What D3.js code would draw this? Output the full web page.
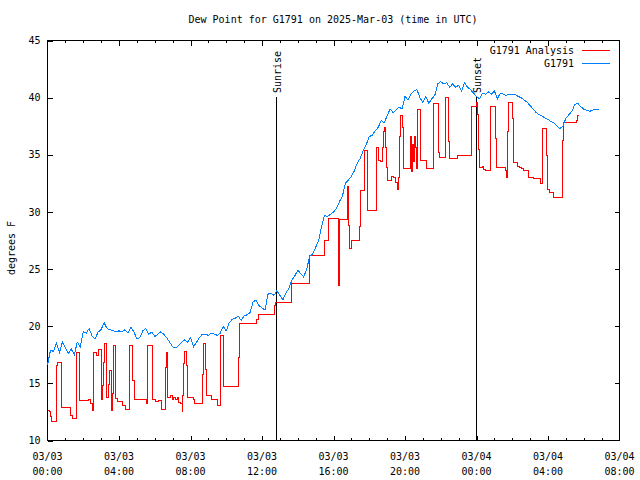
<!DOCTYPE html>
<html>
<head>
<meta charset="utf-8">
<script src="https://cdn.jsdelivr.net/npm/d3@7"></script>
<style>
  html, body { margin: 0; padding: 0; background: #fff; }
  svg { display: block; }
  text { font-family: "DejaVu Sans Mono", "Liberation Mono", monospace; font-size: 10px; fill: #000; }
</style>
</head>
<body>
<div id="chart"></div>
<script>
// ---------------- DATA ----------------
const titleText = "Dew Point for G1791 on 2025-Mar-03 (time in UTC)";
const yLabelText = "degrees F";
const seriesNames = ["G1791 Analysis", "G1791"];
const yTicks = [10, 15, 20, 25, 30, 35, 40, 45];
const xTickHours = [0, 4, 8, 12, 16, 20, 24, 28, 32];
const xTickDates = ["03/03", "03/03", "03/03", "03/03", "03/03", "03/03", "03/04", "03/04", "03/04"];
const xTickTimes = ["00:00", "04:00", "08:00", "12:00", "16:00", "20:00", "00:00", "04:00", "08:00"];
const sunriseHour = 12.8;   // hours since 03/03 00:00 UTC
const sunsetHour = 24.0;

// G1791 observations, one every 10 minutes starting 03/03 00:00
const obsStepMinutes = 10;
const obsValues = [
  16.6, 17.9, 17.8, 18.5, 17.7, 18.6, 18.1, 17.6, 18.0, 17.5, 18.6, 18.2,   // 00-02
  19.5, 19.4, 19.8, 19.1, 18.9, 19.5, 19.7, 20.3, 19.8, 19.7, 19.6, 19.5,   // 02-04
  19.6, 19.5, 19.7, 19.4, 19.9, 19.5, 18.9, 19.0, 19.6, 19.8, 19.3, 19.5,   // 04-06
  19.1, 19.3, 19.5, 19.3, 19.0, 18.6, 18.2, 18.1, 18.3, 18.6, 18.8, 18.6,   // 06-08
  19.0, 18.2, 18.6, 19.0, 19.3, 19.3, 19.2, 19.4, 19.3, 19.2, 19.4, 20.0,   // 08-10
  19.6, 20.3, 20.6, 20.7, 20.9, 20.5, 20.9, 21.0, 21.2, 22.1, 22.3, 21.8,   // 10-12
  21.6, 21.4, 22.8, 22.9, 22.7, 23.1, 22.7, 22.3, 22.9, 23.3, 24.0, 24.4,   // 12-14
  24.9, 24.6, 24.3, 25.0, 26.1, 26.3, 26.9, 27.5, 28.7, 29.7, 29.6, 29.8,   // 14-16
  30.0, 30.3, 30.9, 31.4, 32.5, 32.8, 33.1, 33.6, 34.3, 34.7, 35.4, 35.9,   // 16-18
  36.6, 36.7, 37.1, 37.4, 38.0, 37.8, 38.4, 39.0, 38.7, 38.9, 39.2, 39.0,   // 18-20
  40.1, 39.8, 40.3, 40.6, 40.7, 40.0, 39.6, 40.1, 39.5, 39.9, 40.2, 41.2,   // 20-22
  41.4, 41.2, 41.3, 40.9, 41.2, 40.9, 41.1, 40.6, 41.3, 40.9, 40.7, 40.4,   // 22-24
  40.1, 39.9, 40.4, 40.3, 40.5, 40.3, 40.6, 39.9, 40.4, 40.3, 40.2, 40.3,   // 24-26
  40.3, 40.3, 40.1, 40.0, 39.8, 39.6, 39.3, 39.0, 38.7, 38.5, 38.4, 38.2,   // 26-28
  38.1, 37.9, 37.8, 37.5, 37.3, 37.5, 38.2, 38.5, 38.8, 39.4, 39.5, 39.2,   // 28-30
  39.0, 38.9, 38.8, 38.9, 39.0, 39.0                                         // 30-30:50
];

// G1791 Analysis: step series (value holds from each time until the next)
const anaHours = [
  0.00, 0.12, 0.17, 0.20, 0.50, 0.56, 0.78, 1.29, 1.42, 1.62, 1.79, 2.31, 2.41, 2.50,
  2.59, 2.74, 2.87, 3.02, 3.10, 3.15, 3.21, 3.28, 3.39, 3.49, 3.56, 3.62, 3.67, 3.79,
  3.90, 4.18, 4.36, 4.57, 4.77, 4.89, 5.54, 5.61, 5.87, 6.04, 6.23, 6.38, 6.60, 6.66,
  6.69, 6.73, 6.88, 6.97, 7.07, 7.16, 7.25, 7.35, 7.44, 7.53, 7.57, 7.63, 7.68, 7.78,
  7.81, 8.15, 8.22, 8.65, 8.71, 8.84, 8.87, 9.16, 9.53, 9.68, 9.83, 9.86, 10.69, 10.72,
  11.69, 11.78, 12.70, 12.76, 13.63, 14.67, 15.49, 15.70, 16.26, 16.30, 16.36, 16.76,
  16.84, 16.90, 17.03, 17.44, 17.49, 17.75, 17.88, 17.92, 18.38, 18.54, 18.62, 18.76,
  18.81, 18.85, 18.90, 18.96, 19.00, 19.23, 19.37, 19.47, 19.56, 19.60, 19.65, 19.71,
  19.76, 19.88, 19.93, 20.33, 20.38, 20.44, 20.49, 20.53, 20.58, 20.62, 20.68, 20.86,
  21.20, 21.61, 21.89, 21.95, 22.26, 22.45, 22.51, 22.95, 23.70, 24.00, 24.07, 24.12,
  24.18, 24.32, 24.41, 24.50, 24.78, 25.06, 25.12, 25.62, 25.68, 25.72, 25.78, 26.00,
  26.05, 26.09, 26.31, 26.42, 26.50, 26.61, 26.93, 27.21, 27.58, 27.68, 27.92, 27.96,
  28.11, 28.33, 28.79, 28.85, 29.59, 29.63, 29.72
];
const anaValues = [
  12.6, 12.5, 12.1, 11.7, 16.6, 16.8, 12.9, 12.2, 11.95, 17.7, 13.5, 13.6, 13.2, 12.6,
  17.7, 17.4, 18.0, 13.6, 14.8, 16.8, 18.5, 13.8, 14.9, 16.1, 12.6, 14.1, 18.3, 13.7,
  13.4, 13.1, 12.7, 18.3, 15.25, 13.6, 13.2, 18.3, 13.6, 13.4, 13.5, 12.7, 16.4, 17.7,
  15.6, 13.75, 13.9, 13.6, 13.75, 13.6, 13.8, 13.3, 13.2, 12.5, 13.9, 16.7, 17.8, 16.6,
  13.75, 13.6, 13.2, 15.8, 18.5, 16.2, 13.9, 13.6, 13.1, 19.2, 17.05, 14.7, 17.3, 20.2,
  20.6, 21.05, 21.8, 22.1, 23.75, 26.2, 27.5, 29.4, 26.0, 23.6, 29.3, 32.2,
  28.8, 26.8, 27.5, 28.7, 31.9, 35.4, 32.5, 30.1, 35.6, 34.5, 34.4, 35.6,
  37.0, 37.4, 35.6, 33.9, 32.75, 33.1, 33.0, 32.6, 32.4, 32.0, 33.0, 36.6,
  38.4, 37.4, 33.8, 36.6, 33.5, 35.9, 34.4, 36.6, 35.6, 33.8, 39.0, 34.5,
  33.8, 39.46, 35.2, 34.8, 40.0, 36.2, 34.7, 34.9, 39.2, 39.6, 38.5, 35.5,
  33.9, 34.0, 33.7, 33.6, 39.2, 36.4, 33.9, 33.6, 33.0, 37.0, 39.6, 38.2,
  35.7, 34.3, 34.0, 33.9, 33.8, 33.6, 33.0, 32.9, 32.5, 37.3, 34.9, 32.0,
  31.7, 31.25, 36.25, 37.8, 38.0, 38.4, 38.4
];

// ---------------- CHART ----------------
const W = 640, H = 480;
const L = 47, R = 619, T = 40, B = 440;
const red = "#ff0000", blue = "#0080ff";

const svg = d3.select("#chart").append("svg")
  .attr("width", W).attr("height", H)
  .attr("shape-rendering", "crispEdges");
svg.append("rect").attr("width", W).attr("height", H).attr("fill", "#fff");

const x = d3.scaleLinear().domain([0, 32]).range([L + 0.5, R + 0.5]);
const y = d3.scaleLinear().domain([10, 45]).range([B + 0.5, T + 0.5]);

// title
svg.append("text").attr("x", (L + R) / 2).attr("y", 23)
  .attr("text-anchor", "middle").text(titleText);

// y label
svg.append("text")
  .attr("transform", `translate(15,${(T + B) / 2 + 8}) rotate(-90)`)
  .attr("text-anchor", "middle").text(yLabelText);

// axes (ticks pointing inward)
const minorHours = d3.range(0, 33, 1).filter(h => h % 4 !== 0);
function styleAxis(g) {
  g.select(".domain").remove();
  g.selectAll(".tick line").attr("stroke", "#000");
}
svg.append("g").attr("transform", `translate(${L + 0.5},0)`)
  .call(d3.axisLeft(y).tickValues(yTicks).tickSize(-5).tickPadding(7).tickFormat(d3.format("d")))
  .call(styleAxis)
  .call(g => g.selectAll("text").attr("font-family", null).attr("font-size", null).attr("fill", "#000"));
svg.append("g").attr("transform", `translate(${R + 0.5},0)`)
  .call(d3.axisRight(y).tickValues(yTicks.slice(1, -1)).tickSize(-5).tickFormat(""))
  .call(styleAxis);
svg.append("g").attr("transform", `translate(0,${B + 0.5})`)
  .call(d3.axisBottom(x).tickValues(xTickHours.slice(1, -1)).tickSize(-5).tickFormat(""))
  .call(styleAxis);
svg.append("g").attr("transform", `translate(0,${B + 0.5})`)
  .call(d3.axisBottom(x).tickValues(minorHours).tickSize(-2.5).tickFormat(""))
  .call(styleAxis);
svg.append("g").attr("transform", `translate(0,${T + 0.5})`)
  .call(d3.axisTop(x).tickValues(xTickHours.slice(1, -1)).tickSize(-5).tickFormat(""))
  .call(styleAxis);
svg.append("g").attr("transform", `translate(0,${T + 0.5})`)
  .call(d3.axisTop(x).tickValues(minorHours).tickSize(-2.5).tickFormat(""))
  .call(styleAxis);

// x tick labels (two lines)
const xl = svg.append("g").selectAll("text").data(xTickHours).join("text")
  .attr("text-anchor", "middle")
  .attr("x", d => x(d));
xl.append("tspan").attr("x", d => x(d)).attr("y", 460).text((d, i) => xTickDates[i]);
xl.append("tspan").attr("x", d => x(d)).attr("y", 475).text((d, i) => xTickTimes[i]);

// frame
svg.append("rect").attr("x", L + 0.5).attr("y", T + 0.5)
  .attr("width", R - L).attr("height", B - T)
  .attr("fill", "none").attr("stroke", "#000");

// sunrise / sunset
[[sunriseHour, "Sunrise"], [sunsetHour, "Sunset"]].forEach(([h, label]) => {
  const xp = Math.round(x(h) - 0.5) + 0.5;
  svg.append("line").attr("x1", xp).attr("x2", xp).attr("y1", 97).attr("y2", B)
    .attr("stroke", "#000");
  svg.append("text")
    .attr("transform", `translate(${xp + 4},93) rotate(-90)`)
    .attr("text-anchor", "start").text(label);
});

// series
const obs = obsValues.map((v, i) => [i * obsStepMinutes / 60, v]);
const ana = anaHours.map((h, i) => [h, anaValues[i]]);

svg.append("path").datum(ana)
  .attr("fill", "none").attr("stroke", red).attr("stroke-width", 1)
  .attr("d", d3.line().x(d => x(d[0])).y(d => y(d[1])).curve(d3.curveStepAfter));

svg.append("path").datum(obs)
  .attr("fill", "none").attr("stroke", blue).attr("stroke-width", 1)
  .attr("d", d3.line().x(d => x(d[0])).y(d => y(d[1])));

// legend
const leg = svg.append("g");
[[seriesNames[0], red, 50], [seriesNames[1], blue, 63]].forEach(([name, col, yy]) => {
  leg.append("text").attr("x", 574).attr("y", yy + 3.5).attr("text-anchor", "end").text(name);
  leg.append("line").attr("x1", 582).attr("x2", 610).attr("y1", yy + 0.5).attr("y2", yy + 0.5)
    .attr("stroke", col);
});
</script>
</body>
</html>
